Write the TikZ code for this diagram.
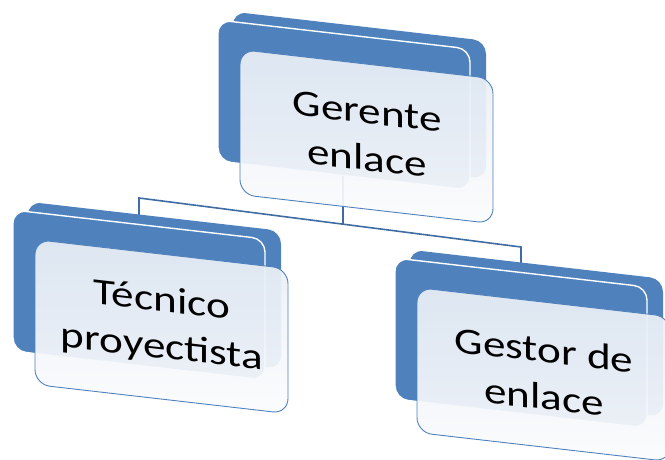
\documentclass[tikz,border=0pt]{standalone}
\usepackage{fontspec}
\setmainfont{Carlito}
\usepackage{tikz}

\definecolor{SlabBlue}{HTML}{4F81BD}
\definecolor{LinkBlue}{HTML}{3F6DA3}
\definecolor{PanelTop}{HTML}{E9EEF6}
\definecolor{PanelLow}{HTML}{FBFCFD}

\begin{document}
\begin{tikzpicture}[x=1pt, y=-1pt]
	\tikzstyle{Slab}	= [fill=SlabBlue, rounded corners=13pt]
	\tikzstyle{Front}	= [Slab, draw=white, line width=1.4pt]
	\tikzstyle{Panel}	= [draw=SlabBlue, line width=0.9pt, rounded corners=15pt, fill opacity=0.93, top color=PanelTop, middle color=PanelTop, bottom color=PanelLow]
	\tikzstyle{Label}	= [align=center, text=black, inner sep=0pt, font=\fontsize{37}{47}\selectfont, transform shape]
	\tikzstyle{Link}	= [draw=LinkBlue, line width=1.6pt]

	\clip (0,0) rectangle (665,459);

	\coordinate (bossin) at (343,170);
	\coordinate (hub) at (343,224);
	\coordinate (techup) at (139,198);
	\coordinate (techin) at (139,222);
	\coordinate (mgrup) at (521,247);
	\coordinate (mgrin) at (521,272);

	\draw[Link] (bossin) -- (hub);
	\draw[Link] (techin) -- (techup) -- (mgrup) -- (mgrin);

	\foreach \nm/\x/\y/\txt in {boss/218/20/{Gerente\\enlace}, tech/13/210/{Técnico\\proyectista}, mgr/395/258/{Gestor de\\enlace}}
	{
		\begin{scope}[shift={(\x,\y)}, cm={1,-0.115,0,1,(0,0)}]
			\path[Slab] (15,-10) rectangle (268,128);
			\path[Front] (0,0) rectangle (252,141);
			\path[Panel] (22,27) rectangle (275,172);
			\begin{scope}[shift={(149,98)}, xscale=1.22]
				\node[Label] (\nm) at (0,0) {\txt};
			\end{scope}
		\end{scope}
	}
\end{tikzpicture}
\end{document}
